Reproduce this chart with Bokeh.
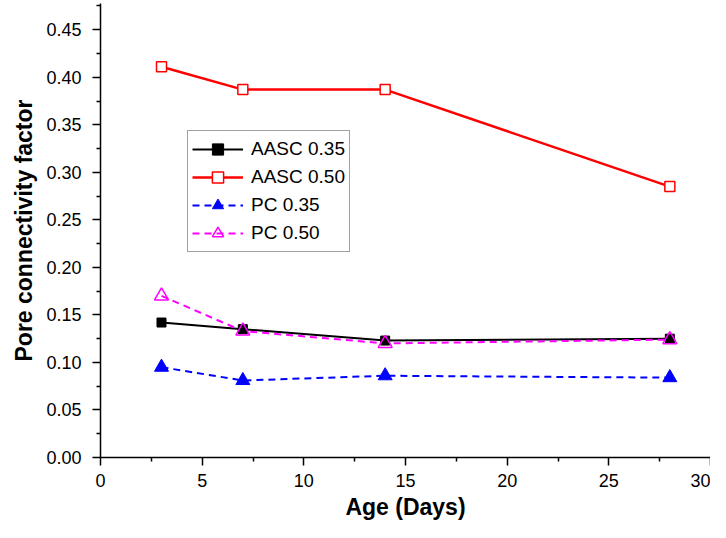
from bokeh.plotting import figure
from bokeh.models import Range1d, FixedTicker, Legend, LegendItem, PrintfTickFormatter
from bokeh.embed import file_html
from bokeh.resources import INLINE

# ---- data ----
age = [3, 7, 14, 28]
aasc_035 = [0.142, 0.135, 0.123, 0.125]
aasc_050 = [0.411, 0.387, 0.387, 0.285]
pc_035 = [0.095, 0.081, 0.086, 0.084]
pc_050 = [0.170, 0.133, 0.120, 0.124]

series_names = ["AASC 0.35", "AASC 0.50", "PC 0.35", "PC 0.50"]
x_ticks = [0, 5, 10, 15, 20, 25, 30]
x_minor = [2.5, 7.5, 12.5, 17.5, 22.5, 27.5]
y_ticks = [0.00, 0.05, 0.10, 0.15, 0.20, 0.25, 0.30, 0.35, 0.40, 0.45]
y_minor = [0.025, 0.075, 0.125, 0.175, 0.225, 0.275, 0.325, 0.375, 0.425, 0.475]

FONT = "Liberation Sans"

p = figure(width=710, height=522, output_backend="svg", toolbar_location=None,
           x_range=Range1d(0, 30), y_range=Range1d(0, 0.4776),
           min_border_left=100, min_border_right=0, min_border_top=3, min_border_bottom=64)
p.outline_line_color = None
p.xgrid.grid_line_color = None
p.ygrid.grid_line_color = None
p.background_fill_color = "white"
p.border_fill_color = "white"

# lines
l1 = p.line(age, aasc_035, line_color="black", line_width=2)
l2 = p.line(age, aasc_050, line_color="#ff0000", line_width=2.5)
l3 = p.line(age, pc_035, line_color="#0000ff", line_width=2, line_dash="7 5")
l4 = p.line(age, pc_050, line_color="#ff00ff", line_width=2, line_dash="7 5")

# markers
m1 = p.scatter(age, aasc_035, marker="square", size=9, fill_color="black", line_color="black")
m2 = p.scatter(age, aasc_050, marker="square", size=10, fill_color="white", line_color="#ff0000", line_width=1.5)
m3 = p.scatter(age, pc_035, marker="triangle", size=14, fill_color="#0000ff", line_color="#0000ff")
m4 = p.scatter(age, pc_050, marker="triangle", size=14, fill_color="white", fill_alpha=0.0,
               line_color="#ff00ff", line_width=1.5)

# axes
for ax in (p.xaxis[0], p.yaxis[0]):
    ax.axis_line_color = "black"
    ax.axis_line_width = 1.5
    ax.major_tick_line_color = "black"
    ax.major_tick_line_width = 1.5
    ax.minor_tick_line_color = "black"
    ax.minor_tick_line_width = 1.5
    ax.major_tick_in = 0
    ax.major_tick_out = 8
    ax.minor_tick_in = 0
    ax.minor_tick_out = 4
    ax.major_label_text_font = FONT
    ax.major_label_text_font_size = "18px"
    ax.major_label_text_color = "black"
    ax.axis_label_text_font = FONT
    ax.axis_label_text_font_size = "23px"
    ax.axis_label_text_font_style = "bold"
    ax.axis_label_text_color = "black"

p.xaxis.ticker = FixedTicker(ticks=x_ticks, minor_ticks=x_minor)
p.yaxis.ticker = FixedTicker(ticks=y_ticks, minor_ticks=y_minor)
p.yaxis.formatter = PrintfTickFormatter(format="%.2f")
p.xaxis.axis_label = "Age (Days)"
p.yaxis.axis_label = "Pore connectivity factor"
p.xaxis.major_label_standoff = 8
p.yaxis.major_label_standoff = 11
p.xaxis.axis_label_standoff = 4
p.yaxis.axis_label_standoff = 6

legend = Legend(items=[
    LegendItem(label=series_names[0], renderers=[l1, m1]),
    LegendItem(label=series_names[1], renderers=[l2, m2]),
    LegendItem(label=series_names[2], renderers=[l3, m3]),
    LegendItem(label=series_names[3], renderers=[l4, m4]),
], location=(87, 205))
legend.label_text_font = FONT
legend.label_text_font_size = "19px"
legend.label_text_color = "black"
legend.glyph_width = 51
legend.glyph_height = 28
legend.label_height = 28
legend.label_standoff = 8
legend.spacing = 0
legend.padding = 4
legend.margin = 0
legend.border_line_color = "#444444"
legend.border_line_width = 1.5
legend.background_fill_alpha = 0.0
p.add_layout(legend, "center")

open("out.html", "w").write(file_html(p, INLINE))
